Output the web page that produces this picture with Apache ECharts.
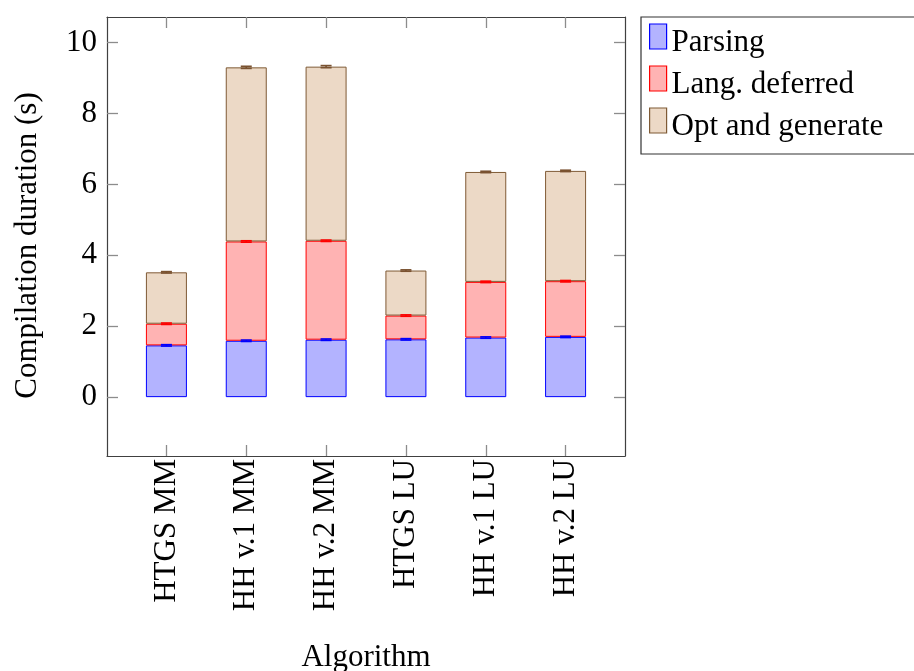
<!DOCTYPE html>
<html>
<head>
<meta charset="utf-8">
<title>Compilation duration</title>
<script src="https://cdn.jsdelivr.net/npm/echarts@6/dist/echarts.min.js"></script>
<style>
  html, body { margin: 0; padding: 0; background: #fff; }
  #chart { width: 914px; height: 671px; }
</style>
</head>
<body>
<div id="chart"></div>
<script>
// Algorithms on the horizontal axis
const categories = ['HTGS MM', 'HH v.1 MM', 'HH v.2 MM', 'HTGS LU', 'HH v.1 LU', 'HH v.2 LU'];

// Stage durations in seconds (stacked)
const parsing   = [1.46, 1.59, 1.62, 1.63, 1.68, 1.70];
const langDefer = [0.61, 2.80, 2.79, 0.67, 1.57, 1.57];
const optGen    = [1.45, 4.91, 4.91, 1.27, 3.10, 3.11];

// Spread of each stage (seconds)
const parsingErr   = [0.02, 0.02, 0.02, 0.02, 0.02, 0.02];
const langDeferErr = [0.02, 0.02, 0.02, 0.02, 0.02, 0.02];
const optGenErr    = [0.02, 0.03, 0.03, 0.02, 0.02, 0.02];

const yTicks = [0, 2, 4, 6, 8, 10];
const yMin = -1.66, yMax = 10.72;

const FONT = '"Liberation Serif", "Times New Roman", serif';
const FS = 31;

const stages = [
  { name: 'Parsing',          values: parsing,   err: parsingErr,   fill: '#b3b3ff', line: '#0000ff', bar: '#0000ff' },
  { name: 'Lang. deferred',   values: langDefer, err: langDeferErr, fill: '#ffb3b3', line: '#ff0000', bar: '#ff0000' },
  { name: 'Opt and generate', values: optGen,    err: optGenErr,    fill: '#ecd9c6', line: '#7f5a35', bar: '#7a5230' }
];

// running top of each stack level, used to place the error bars
const tops = [];
let acc = categories.map(() => 0);
stages.forEach(s => {
  acc = acc.map((a, i) => a + s.values[i]);
  tops.push(acc.slice());
});

function errorBar(color) {
  return function (params, api) {
    const x = api.value(0), top = api.value(1), e = api.value(2);
    const hi = api.coord([x, top + e]);
    const lo = api.coord([x, top - e]);
    const hw = 5.5;
    const st = { stroke: color, lineWidth: 1.6 };
    return {
      type: 'group',
      children: [
        { type: 'line', shape: { x1: hi[0], y1: hi[1], x2: lo[0], y2: lo[1] }, style: st },
        { type: 'line', shape: { x1: hi[0] - hw, y1: hi[1], x2: hi[0] + hw, y2: hi[1] }, style: st },
        { type: 'line', shape: { x1: lo[0] - hw, y1: lo[1], x2: lo[0] + hw, y2: lo[1] }, style: st }
      ]
    };
  };
}

const series = [];
stages.forEach(s => {
  series.push({
    name: s.name,
    type: 'bar',
    stack: 'total',
    xAxisIndex: 2,
    yAxisIndex: 2,
    barWidth: 41,
    itemStyle: { color: s.fill, borderColor: s.line, borderWidth: 1 },
    emphasis: { disabled: true },
    data: s.values
  });
});
stages.forEach((s, k) => {
  series.push({
    name: s.name + ' err',
    type: 'custom',
    xAxisIndex: 2,
    yAxisIndex: 2,
    renderItem: errorBar(s.bar),
    encode: { x: 0, y: 1 },
    z: 5,
    silent: true,
    data: categories.map((c, i) => [i, tops[k][i], s.err[i]])
  });
});

const frame = { show: true, onZero: false, lineStyle: { color: '#404040', width: 1.2 } };
const tickStyle = { color: '#8c8c8c', width: 1.3 };

const chart = echarts.init(document.getElementById('chart'), null, { renderer: 'canvas' });
chart.setOption({
  animation: false,
  backgroundColor: '#ffffff',
  textStyle: { fontFamily: FONT, color: '#000' },
  grid: [
    // outer frame carrying the value axes
    { left: 107, right: 289, top: 17, bottom: 215, containLabel: false, outerBoundsMode: 'none' },
    // inner band for the category positions
    { left: 126.5, right: 308.5, top: 17, bottom: 215, containLabel: false, outerBoundsMode: 'none' }
  ],
  legend: {
    orient: 'vertical',
    left: 641,
    top: 17,
    padding: [-2, 45, 12, 8],
    borderColor: '#333',
    borderWidth: 1.2,
    itemWidth: 17,
    itemHeight: 25,
    itemGap: -1,
    icon: 'rect',
    selectedMode: false,
    formatter: name => '{t|' + name + '}',
    textStyle: {
      fontFamily: FONT, fontSize: FS, color: '#000',
      rich: { t: { fontFamily: FONT, fontSize: FS, color: '#000', lineHeight: 19, padding: [12, 0, 0, 0] } }
    },
    data: stages.map(s => ({ name: s.name, itemStyle: { color: s.fill, borderColor: s.line, borderWidth: 1.2 } }))
  },
  xAxis: [
    {
      gridIndex: 0, type: 'value', position: 'bottom', min: 0, max: 1,
      axisLine: frame, axisTick: { show: false }, axisLabel: { show: false }, splitLine: { show: false }
    },
    {
      gridIndex: 0, type: 'value', position: 'top', min: 0, max: 1,
      axisLine: frame, axisTick: { show: false }, axisLabel: { show: false }, splitLine: { show: false }
    },
    {
      gridIndex: 1,
      type: 'category',
      position: 'bottom',
      data: categories,
      name: 'Algorithm',
      nameLocation: 'middle',
      nameGap: 186,
      nameTextStyle: { fontFamily: FONT, fontSize: FS, color: '#000' },
      axisLine: { show: false, onZero: false },
      axisTick: { show: true, inside: true, length: 11, alignWithLabel: true, lineStyle: tickStyle },
      splitLine: { show: false },
      axisLabel: {
        interval: 0,
        rotate: 90,
        margin: 3,
        fontFamily: FONT,
        fontSize: FS,
        color: '#000'
      }
    },
    {
      gridIndex: 1,
      type: 'category',
      position: 'top',
      data: categories,
      axisLine: { show: false, onZero: false },
      axisTick: { show: true, inside: true, length: 11, alignWithLabel: true, lineStyle: tickStyle },
      splitLine: { show: false },
      axisLabel: { show: false }
    }
  ],
  yAxis: [
    {
      gridIndex: 0,
      type: 'value',
      position: 'left',
      min: yMin,
      max: yMax,
      name: 'Compilation duration (s)',
      nameLocation: 'middle',
      nameGap: 64,
      nameTextStyle: { fontFamily: FONT, fontSize: FS, color: '#000', padding: [0, 18, 0, 0] },
      axisLine: frame,
      axisTick: { show: true, inside: true, length: 11, customValues: yTicks, lineStyle: tickStyle },
      splitLine: { show: false },
      axisLabel: {
        customValues: yTicks,
        margin: 10,
        fontFamily: FONT,
        fontSize: FS,
        color: '#000'
      }
    },
    {
      gridIndex: 0,
      type: 'value',
      position: 'right',
      min: yMin,
      max: yMax,
      axisLine: frame,
      axisTick: { show: true, inside: true, length: 11, customValues: yTicks, lineStyle: tickStyle },
      splitLine: { show: false },
      axisLabel: { show: false }
    },
    {
      gridIndex: 1,
      type: 'value',
      min: yMin,
      max: yMax,
      show: false,
      splitLine: { show: false }
    }
  ],
  series: series
});
</script>
</body>
</html>
